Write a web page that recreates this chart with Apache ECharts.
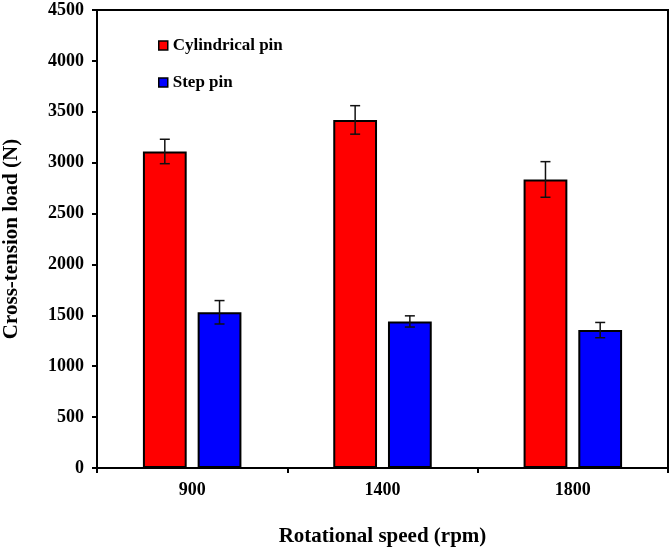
<!DOCTYPE html>
<html>
<head>
<meta charset="utf-8">
<script src="https://cdn.jsdelivr.net/npm/echarts@6/dist/echarts.min.js"></script>
<style>html,body{margin:0;padding:0;background:#fff;}#c{width:672px;height:549px;}</style>
</head>
<body>
<div id="c"></div>
<script>
var categories = ['900', '1400', '1800'];
var cylindricalValues = [3110, 3420, 2835];
var cylindricalErrors = [120, 140, 175];
var stepValues = [1530, 1440, 1355];
var stepErrors = [115, 55, 75];
var yTicks = [0, 500, 1000, 1500, 2000, 2500, 3000, 3500, 4000, 4500];

var FONT = '"Liberation Serif", "Times New Roman", serif';
var BAR_W = 0.23, GAP = 0.25;

function errData(vals, errs) {
  return vals.map(function (v, i) { return [i, v - errs[i], v + errs[i]]; });
}
function errSeries(vals, errs, side) {
  return {
    type: 'custom',
    silent: true,
    z: 10,
    data: errData(vals, errs),
    encode: { x: 0, y: [1, 2] },
    renderItem: function (params, api) {
      var band = api.size([1, 0])[0];
      var bw = band * BAR_W;
      var off = side * (bw + bw * GAP) / 2;
      var lo = api.coord([api.value(0), api.value(1)]);
      var hi = api.coord([api.value(0), api.value(2)]);
      var x = lo[0] + off;
      var cap = 5;
      var st = { stroke: '#111', lineWidth: 1.5 };
      return {
        type: 'group',
        children: [
          { type: 'line', shape: { x1: x, y1: lo[1], x2: x, y2: hi[1] }, style: st },
          { type: 'line', shape: { x1: x - cap, y1: lo[1], x2: x + cap, y2: lo[1] }, style: st },
          { type: 'line', shape: { x1: x - cap, y1: hi[1], x2: x + cap, y2: hi[1] }, style: st }
        ]
      };
    }
  };
}

var chart = echarts.init(document.getElementById('c'), null, { renderer: 'canvas' });
chart.setOption({
  animation: false,
  backgroundColor: '#fff',
  grid: { left: 97, right: 4, top: 10, bottom: 81, show: true, borderColor: '#000', borderWidth: 2, backgroundColor: 'transparent', containLabel: false, outerBoundsMode: 'none' },
  legend: {
    orient: 'vertical',
    left: 153,
    top: 32,
    itemWidth: 9,
    itemHeight: 9,
    itemGap: 20,
    icon: 'rect',
    textStyle: { fontFamily: FONT, fontWeight: 'bold', fontSize: 17, color: '#000' },
    data: [
      { name: 'Cylindrical pin', itemStyle: { color: '#ff0000', borderColor: '#000', borderWidth: 1.5 } },
      { name: 'Step pin', itemStyle: { color: '#0000ff', borderColor: '#000', borderWidth: 1.5 } }
    ]
  },
  xAxis: {
    type: 'category',
    data: categories,
    name: 'Rotational speed (rpm)',
    nameLocation: 'middle',
    nameGap: 58,
    nameTextStyle: { fontFamily: FONT, fontWeight: 'bold', fontSize: 21, color: '#000' },
    axisLine: { lineStyle: { color: '#000', width: 2 } },
    axisTick: { show: true, length: 5, lineStyle: { color: '#000', width: 2 } },
    axisLabel: { margin: 13, fontFamily: FONT, fontWeight: 'bold', fontSize: 18, color: '#000' }
  },
  yAxis: {
    type: 'value',
    min: 0,
    max: 4500,
    interval: 500,
    name: 'Cross-tension load (N)',
    nameLocation: 'middle',
    nameGap: 75,
    nameTextStyle: { fontFamily: FONT, fontWeight: 'bold', fontSize: 21, color: '#000' },
    axisLine: { show: true, lineStyle: { color: '#000', width: 2 } },
    axisTick: { show: true, length: 5, lineStyle: { color: '#000', width: 2 } },
    splitLine: { show: false },
    axisLabel: {
      margin: 13, fontFamily: FONT, fontWeight: 'bold', fontSize: 18, color: '#000',
      formatter: function (v) { return yTicks.indexOf(v) >= 0 ? String(v) : ''; }
    }
  },
  series: [
    {
      name: 'Cylindrical pin', type: 'bar', data: cylindricalValues,
      barWidth: (BAR_W * 100) + '%', barGap: (GAP * 100) + '%',
      itemStyle: { color: '#ff0000', borderColor: '#000', borderWidth: 2 }
    },
    {
      name: 'Step pin', type: 'bar', data: stepValues,
      barWidth: (BAR_W * 100) + '%', barGap: (GAP * 100) + '%',
      itemStyle: { color: '#0000ff', borderColor: '#000', borderWidth: 2 }
    },
    errSeries(cylindricalValues, cylindricalErrors, -1),
    errSeries(stepValues, stepErrors, 1)
  ]
});
</script>
</body>
</html>
